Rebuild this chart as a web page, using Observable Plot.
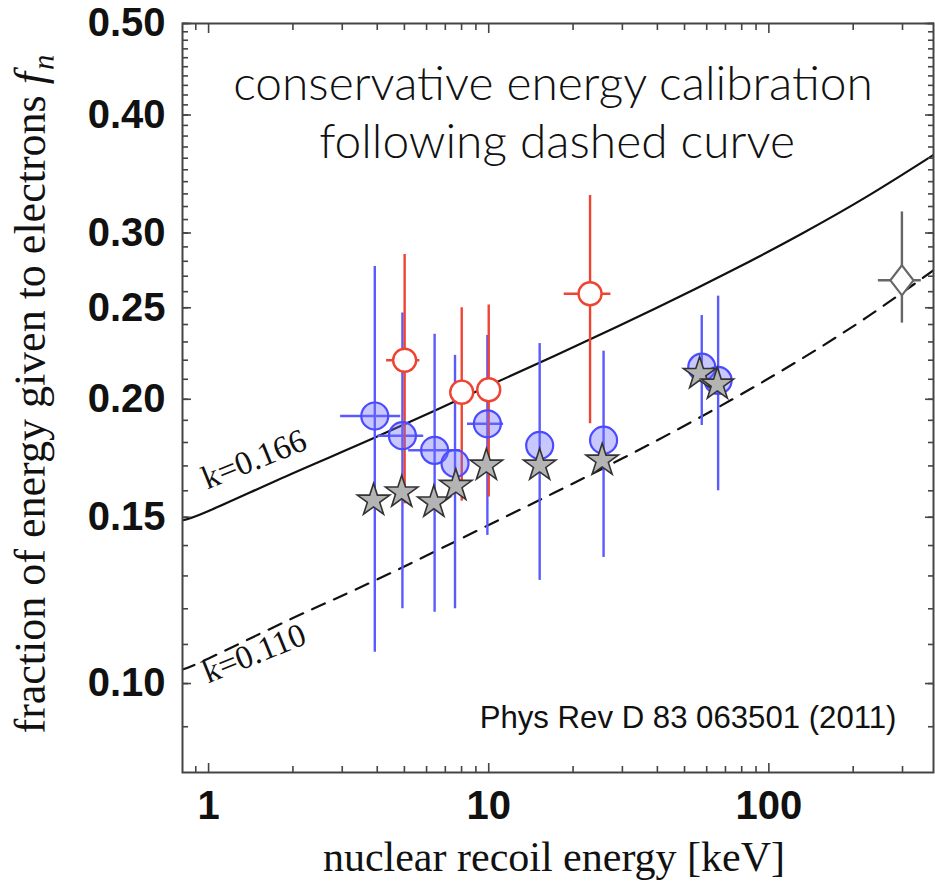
<!DOCTYPE html>
<html><head><meta charset="utf-8">
<script src="https://cdn.jsdelivr.net/npm/d3@7"></script>
<script src="https://cdn.jsdelivr.net/npm/@observablehq/plot@0.6"></script>
<style>body{margin:0;background:#fff}</style>
</head><body><div id="chart"></div>
<script>
// ---- data ----
const blueE  = [3.92, 4.92, 6.41, 7.58, 9.89, 15.2, 25.7, 57.6, 65.9];
const blueF  = [0.192, 0.183, 0.1766, 0.171, 0.1884, 0.1787, 0.181, 0.2163, 0.2094];
const blueLo = [0.1079, 0.120, 0.119, 0.120, 0.1435, 0.1286, 0.136, 0.1876, 0.160];
const blueHi = [0.2765, 0.2469, 0.2343, 0.2226, 0.2337, 0.2291, 0.2249, 0.2453, 0.2572];
const blueXLo = [2.96, 4.02, 5.18, null, 8.4, null, null, null, null];
const blueXHi = [4.85, 5.86, 7.93, null, 11.3, null, null, null, null];

const redE  = [5.01, 8.01, 10.0, 23.0];
const redF  = [0.220, 0.2035, 0.2047, 0.2587];
const redLo = [0.155, 0.156, 0.1576, 0.1884];
const redHi = [0.2847, 0.250, 0.2517, 0.3287];
const redXLo = [4.32, null, null, 18.6];
const redXHi = [5.68, null, null, 27.3];

const starE = [3.88, 4.89, 6.37, 7.63, 9.81, 15.2, 25.4, 56.6, 65.5];
const starF = [0.1563, 0.1594, 0.1556, 0.162, 0.1702, 0.1702, 0.1723, 0.2128, 0.2074];

const diamondE = [298.5];
const diamondF = [0.2673];
const diamondLo = [0.2408];
const diamondHi = [0.3158];
const diamondXLo = [246];
const diamondXHi = [350];

// curves k=0.166 (solid) and k=0.110 (dashed)
const solidE = [0.8, 1, 2, 4, 10, 20, 40, 75, 130, 226, 390];
const solidF = [0.1488, 0.1523, 0.1670, 0.1826, 0.2067, 0.2270, 0.2501, 0.2744, 0.2991, 0.3284, 0.3634];
const dashedE = [0.8, 1, 2, 4, 10, 20, 40, 75, 130, 226, 395];
const dashedF = [0.1034, 0.1063, 0.1173, 0.1289, 0.1472, 0.1629, 0.1810, 0.2004, 0.2205, 0.2448, 0.2752];

// ticks
const xMajor = [1, 10, 100];
const xMajorLabels = ["1", "10", "100"];
const xMinor = [0.9, 2, 3, 4, 5, 6, 7, 8, 9, 20, 30, 40, 50, 60, 70, 80, 90, 200, 300];
const yMajor = [0.10, 0.15, 0.20, 0.25, 0.30, 0.40, 0.50];
const yMajorLabels = ["0.10", "0.15", "0.20", "0.25", "0.30", "0.40", "0.50"];
const yMinor = d3.range(9, 51).map(d => d / 100);

const titleLines = ["conservative energy calibration", "following dashed curve"];
const citation = "Phys Rev D 83 063501 (2011)";
const xTitle = "nuclear recoil energy [keV]";
const yTitle = "fraction of energy given to electrons";
const yTitleSymbol = "f";
const yTitleSub = "n";
const curveLabels = ["k=0.166", "k=0.110"];

// ---- tables ----
const blue = blueE.map((e, i) => ({e, f: blueF[i], lo: blueLo[i], hi: blueHi[i], xlo: blueXLo[i], xhi: blueXHi[i]}));
const red = redE.map((e, i) => ({e, f: redF[i], lo: redLo[i], hi: redHi[i], xlo: redXLo[i], xhi: redXHi[i]}));
const stars = starE.map((e, i) => ({e, f: starF[i]}));
const diamond = diamondE.map((e, i) => ({e, f: diamondF[i], lo: diamondLo[i], hi: diamondHi[i], xlo: diamondXLo[i], xhi: diamondXHi[i]}));
const solid = solidE.map((e, i) => ({e, f: solidF[i]}));
const dashed = dashedE.map((e, i) => ({e, f: dashedF[i]}));
const kLabels = [
  {text: curveLabels[0], e: 0.99, f: 0.1605},
  {text: curveLabels[1], e: 0.995, f: 0.1000}
];

const rhombus = {draw(ctx, size) { const h = Math.sqrt(size / 1.54), w = 0.77 * h; ctx.moveTo(0, -h); ctx.lineTo(w, 0); ctx.lineTo(0, h); ctx.lineTo(-w, 0); ctx.closePath(); }};

const sans = "'Liberation Sans', Arial, Helvetica, sans-serif";
const serif = "'Liberation Serif', 'Times New Roman', serif";
const light = "Lato, 'Open Sans', sans-serif";

const BLUE = "#5a5aff", RED = "#ee4433";

const mctx = document.createElement("canvas").getContext("2d");
// title and citation sizes fitted to their widths in the reference
mctx.font = "300 50px Lato";
const titleFS = Math.min(54, 50 * 641 / mctx.measureText(titleLines[0]).width);
mctx.font = "33px 'Liberation Sans'";
const citeFS = Math.min(34, 33 * 417 / mctx.measureText(citation).width);

// y title laid out word by word (rotated), measured with a canvas
const YFS = 44;
const yStart = -39;
const YROT = -89.9;
mctx.font = `${YFS}px 'Liberation Serif'`;
const spaceW = mctx.measureText(" ").width;
const yWords = [];
let run = 0;
for (const w of yTitle.split(" ")) {
  yWords.push({w, off: run, italic: false, sub: false});
  run += mctx.measureText(w).width + spaceW;
}
mctx.font = `italic ${YFS}px 'Liberation Serif'`;
yWords.push({w: yTitleSymbol, off: run, italic: true, sub: false});
run += mctx.measureText(yTitleSymbol).width + 2;
yWords.push({w: yTitleSub, off: run, italic: true, sub: true});

const yTitleMarks = yWords.map(d => Plot.text([d.w], {
  text: t => t, frameAnchor: "bottom-left", dx: -138 + (d.sub ? 9 : 0), dy: yStart - d.off,
  rotate: YROT, textAnchor: "start", lineAnchor: "bottom",
  fontSize: d.sub ? YFS * 0.7 : YFS, fontStyle: d.italic ? "italic" : "normal",
  fontFamily: serif, fill: "#111"
}));

const tickAxes = [];
for (const anchor of ["left", "right"]) {
  const s = anchor === "left" ? 1 : -1;
  tickAxes.push(Plot.axisY({anchor, ticks: yMinor, tickSize: 6, dx: s * 6, tickFormat: () => "", label: null, stroke: "#444", strokeWidth: 1.6}));
  tickAxes.push(Plot.axisY({anchor, ticks: yMajor, tickSize: 9, dx: s * 9, tickFormat: () => "", label: null, stroke: "#444", strokeWidth: 1.6}));
}
for (const anchor of ["bottom", "top"]) {
  const s = anchor === "bottom" ? -1 : 1;
  tickAxes.push(Plot.axisX({anchor, ticks: xMinor, tickSize: 6, dy: s * 6, tickFormat: () => "", label: null, stroke: "#444", strokeWidth: 1.6}));
  tickAxes.push(Plot.axisX({anchor, ticks: xMajor, tickSize: 9, dy: s * 9, tickFormat: () => "", label: null, stroke: "#444", strokeWidth: 1.6}));
}

const plot = Plot.plot({
  width: 935, height: 892,
  marginLeft: 182, marginRight: 2, marginTop: 23, marginBottom: 120,
  style: {background: "white", fontFamily: sans},
  x: {type: "log", domain: [0.807, 387]},
  y: {type: "log", domain: [0.0805, 0.5]},
  marks: [
    Plot.line(solid, {x: "e", y: "f", stroke: "#111", strokeWidth: 2.2, curve: "natural", clip: true}),
    Plot.line(dashed, {x: "e", y: "f", stroke: "#111", strokeWidth: 2.2, strokeDasharray: "14,10", curve: "natural", clip: true}),
    Plot.ruleX(blue, {x: "e", y1: "lo", y2: "hi", stroke: BLUE, strokeWidth: 2.4}),
    Plot.ruleY(blue.filter(d => d.xlo != null), {y: "f", x1: "xlo", x2: "xhi", stroke: BLUE, strokeWidth: 2.4}),
    Plot.ruleX(red, {x: "e", y1: "lo", y2: "hi", stroke: RED, strokeWidth: 2.4}),
    Plot.ruleY(red.filter(d => d.xlo != null), {y: "f", x1: "xlo", x2: "xhi", stroke: RED, strokeWidth: 2.4}),
    Plot.dot(blue, {x: "e", y: "f", r: 13.5, fill: "#6e6eff", fillOpacity: 0.38, stroke: "#4a4aff", strokeWidth: 2.2}),
    Plot.dot(red, {x: "e", y: "f", r: 11.5, fill: "white", stroke: RED, strokeWidth: 2.4}),
    Plot.ruleX(diamond, {x: "e", y1: "lo", y2: "hi", stroke: "#666", strokeWidth: 2.4}),
    Plot.ruleY(diamond, {y: "f", x1: "xlo", x2: "xhi", stroke: "#666", strokeWidth: 2.4}),
    Plot.dot(diamond, {x: "e", y: "f", symbol: rhombus, r: 10.5, fill: "white", stroke: "#666", strokeWidth: 2.2}),
    Plot.dot(stars, {x: "e", y: "f", symbol: "star", r: 10.2, fill: "#b4b4b4", stroke: "#333", strokeWidth: 1.6}),
    Plot.text(kLabels, {x: "e", y: "f", text: "text", rotate: -22, textAnchor: "start", lineAnchor: "bottom", fontSize: 33, fontFamily: serif, fill: "#111"}),
    Plot.text([titleLines[0]], {text: d => d, frameAnchor: "top", dx: -5, dy: 76, lineAnchor: "bottom", fontSize: titleFS, fontFamily: light, fontWeight: 300, fill: "#111"}),
    Plot.text([titleLines[1]], {text: d => d, frameAnchor: "top", dx: -1, dy: 134, lineAnchor: "bottom", fontSize: titleFS, fontFamily: light, fontWeight: 300, fill: "#111"}),
    Plot.text([citation], {text: d => d, frameAnchor: "bottom-right", dx: -37, dy: -45, textAnchor: "end", lineAnchor: "bottom", fontSize: citeFS, fontFamily: sans, fill: "#111"}),
    ...tickAxes,
    Plot.axisY({anchor: "left", ticks: yMajor, tickSize: 0, tickPadding: 17, tickFormat: (d) => yMajorLabels[yMajor.indexOf(d)], label: null, fontSize: 40, fontWeight: "bold", fill: "#111"}),
    Plot.axisX({anchor: "bottom", ticks: xMajor, tickSize: 0, tickPadding: 18, tickFormat: d => xMajorLabels[xMajor.indexOf(d)], label: null, fontSize: 40, fontWeight: "bold", fill: "#111"}),
    Plot.text([xTitle], {text: d => d, frameAnchor: "bottom", dx: -4, dy: 98, lineAnchor: "bottom", fontSize: 42, fontFamily: serif, fill: "#111"}),
    ...yTitleMarks,
    Plot.frame({stroke: "#444", strokeWidth: 2})
  ]
});

document.getElementById("chart").appendChild(plot);
</script>
</body></html>
